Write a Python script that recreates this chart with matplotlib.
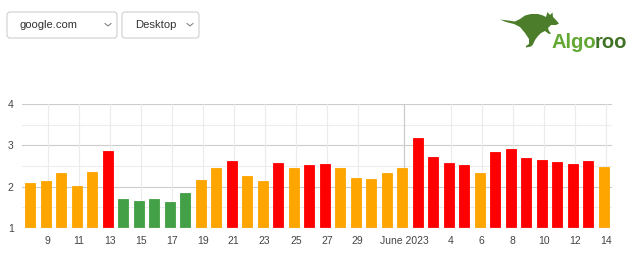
import matplotlib
matplotlib.use("Agg")
import matplotlib.pyplot as plt
from matplotlib.patches import FancyBboxPatch, Polygon
import matplotlib.dates as mdates
import pandas as pd
import numpy as np

plt.rcParams['font.family'] = ['Liberation Sans', 'DejaVu Sans']

# ---- data ----
dates = pd.date_range("2023-05-08", "2023-06-14", freq="D")
values = [2.08, 2.14, 2.32, 2.01, 2.36, 2.87, 1.70, 1.66, 1.70, 1.63,
          1.84, 2.16, 2.44, 2.62, 2.26, 2.14, 2.57, 2.45, 2.52, 2.56,
          2.44, 2.20, 2.18, 2.34, 2.44, 3.17, 2.71, 2.57, 2.52, 2.34,
          2.84, 2.92, 2.70, 2.65, 2.60, 2.55, 2.62, 2.48]
tick_dates = (list(pd.date_range("2023-05-09", "2023-05-29", freq="2D"))
              + [pd.Timestamp("2023-06-01")]
              + list(pd.date_range("2023-06-04", "2023-06-14", freq="2D")))
tick_labels = ["9", "11", "13", "15", "17", "19", "21", "23", "25", "27", "29",
               "June 2023", "4", "6", "8", "10", "12", "14"]
y_ticks = [1, 2, 3, 4]
site_label = "google.com"
device_label = "Desktop"

def risk_color(v):
    if v < 2.0:
        return "#43a047"
    if v < 2.5:
        return "#ffa500"
    return "#ff0000"

colors = [risk_color(v) for v in values]

W, H = 640, 263
fig = plt.figure(figsize=(W / 100, H / 100), dpi=100)
ax = fig.add_axes([22 / W, (H - 228) / H, (612 - 22) / W, (228 - 104) / H])

x = mdates.date2num(dates.to_pydatetime())
ax.bar(x, [v - 1 for v in values], bottom=1, width=0.65, color=colors,
       edgecolor=[c for c in colors], linewidth=0.6, zorder=3)

ax.set_ylim(1, 4)
ax.set_xlim(x[0] - 0.52, x[-1] + 0.52)

shift = 0.13
tx = mdates.date2num([d.to_pydatetime() for d in tick_dates]) + shift
ax.set_xticks(tx)
ax.set_xticklabels(tick_labels)
ax.set_yticks(y_ticks)
ax.set_yticklabels([str(v) for v in y_ticks])

# grid lines
for yv in [1.5, 2.5, 3.5]:
    ax.axhline(yv, color="#ededed", lw=0.8, zorder=1)
for yv in [2, 3, 4]:
    ax.axhline(yv, color="#cccccc", lw=0.8, zorder=1)
for xv, lab in zip(tx, tick_labels):
    col = "#cccccc" if lab == "June 2023" else "#ebebeb"
    ax.axvline(xv, color=col, lw=0.9 if lab == "June 2023" else 0.8, zorder=1)
ax.axhline(1, color="#cccccc", lw=0.9, zorder=4)

for s in ax.spines.values():
    s.set_visible(False)
ax.tick_params(length=0, labelsize=7.5, colors="#444444")
ax.tick_params(axis="x", pad=6)
ax.tick_params(axis="y", pad=6)

# ---- header overlay (pixel coordinates, y down) ----
ov = fig.add_axes([0, 0, 1, 1])
ov.set_xlim(0, W)
ov.set_ylim(H, 0)
ov.axis("off")
ov.patch.set_visible(False)

def dropdown(x0, x1, label):
    box = FancyBboxPatch((x0, 12), x1 - x0, 26,
                         boxstyle="round,pad=0,rounding_size=3",
                         facecolor="white", edgecolor="#cfcfcf", lw=0.8)
    ov.add_patch(box)
    ov.text(x0 + 13, 25.5, label, fontsize=8.1, color="#333333",
            va="center", ha="left")
    cx = x1 - 9
    ov.plot([cx - 3, cx, cx + 3], [23.5, 26, 23.5], color="#777777", lw=0.7)

dropdown(7, 117, site_label)
dropdown(122, 199, device_label)

# logo
kang = [(500, 19.5), (508, 20.5), (515, 21.5), (520, 19), (525, 15.5),
        (531, 14), (538, 14), (543, 15.5), (546, 17), (547.5, 12),
        (550, 15), (552.5, 12.5), (553, 17), (556, 20), (559, 23.5),
        (556, 25), (551, 25), (548, 28), (549, 31), (551, 33.5), (549, 34),
        (545, 31), (541, 33), (538, 36), (535, 40), (533, 44.5),
        (531, 46.5), (526, 47.5), (526, 46), (529, 44), (529, 39),
        (525, 33), (520, 27), (514, 24), (506, 22)]
ov.add_patch(Polygon(kang, closed=True, facecolor="#4b7d2b", edgecolor="none"))

renderer = fig.canvas.get_renderer()
t_algo = ov.text(552, 48, "Algo", fontsize=14.5, fontweight="bold",
                 color="#62a832", ha="left", va="baseline")
x_end = t_algo.get_window_extent(renderer).x1
ov.text(x_end - 2.5, 48, "roo", fontsize=14.5, fontweight="bold",
        color="#3f7224", ha="left", va="baseline")

fig.savefig("out.png", dpi=100)
